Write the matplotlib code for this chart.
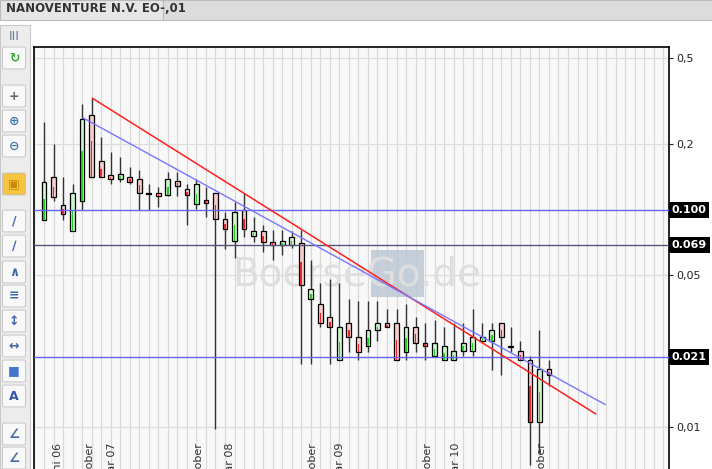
import matplotlib
matplotlib.use("Agg")
import matplotlib.pyplot as plt
from matplotlib.patches import Rectangle, FancyBboxPatch
import numpy as np

# monthly OHLC, starting mid 2006
opens = [0.090, 0.141, 0.105, 0.080, 0.110, 0.274, 0.167, 0.144, 0.139, 0.141,
         0.139, 0.119, 0.120, 0.117, 0.136, 0.125, 0.106, 0.111, 0.119, 0.091,
         0.072, 0.100, 0.076, 0.080, 0.071, 0.069, 0.069, 0.070, 0.039, 0.037,
         0.032, 0.0204, 0.030, 0.026, 0.0235, 0.028, 0.030, 0.030, 0.0222, 0.029,
         0.0245, 0.0213, 0.0204, 0.0204, 0.0225, 0.0225, 0.025, 0.025, 0.030, 0.0235,
         0.0225, 0.0204, 0.0105, 0.0186]
highs = [0.254, 0.201, 0.141, 0.132, 0.306, 0.326, 0.217, 0.184, 0.175, 0.157,
         0.152, 0.131, 0.128, 0.150, 0.150, 0.132, 0.138, 0.128, 0.120, 0.098,
         0.109, 0.120, 0.093, 0.085, 0.081, 0.081, 0.080, 0.081, 0.059, 0.046,
         0.048, 0.046, 0.039, 0.038, 0.038, 0.038, 0.035, 0.035, 0.037, 0.032,
         0.030, 0.031, 0.029, 0.030, 0.030, 0.035, 0.030, 0.030, 0.030, 0.029,
         0.025, 0.0213, 0.028, 0.0204]
lows = [0.090, 0.110, 0.090, 0.080, 0.100, 0.141, 0.141, 0.132, 0.135, 0.131,
        0.100, 0.100, 0.103, 0.116, 0.116, 0.085, 0.101, 0.093, 0.0098, 0.066,
        0.060, 0.075, 0.071, 0.064, 0.059, 0.062, 0.067, 0.0196, 0.0196, 0.029,
        0.0196, 0.0204, 0.0222, 0.0204, 0.0222, 0.025, 0.029, 0.0204, 0.0204, 0.0222,
        0.0204, 0.0213, 0.0204, 0.0204, 0.0213, 0.0213, 0.025, 0.0184, 0.0174, 0.0222,
        0.0204, 0.0067, 0.0076, 0.0155]
closes = [0.134, 0.115, 0.096, 0.120, 0.263, 0.141, 0.141, 0.139, 0.147, 0.135,
          0.120, 0.118, 0.116, 0.138, 0.129, 0.117, 0.131, 0.108, 0.091, 0.082,
          0.098, 0.082, 0.080, 0.071, 0.069, 0.072, 0.075, 0.045, 0.043, 0.030,
          0.029, 0.029, 0.026, 0.0222, 0.028, 0.030, 0.029, 0.0204, 0.029, 0.0245,
          0.0235, 0.0245, 0.0235, 0.0225, 0.0245, 0.026, 0.026, 0.028, 0.026, 0.0233,
          0.0204, 0.0105, 0.0186, 0.0174]

# trend lines: (start index, start value, end index, end value)
red_trend = (5.1, 0.326, 57.9, 0.0115)
blue_trend = (4.1, 0.265, 58.9, 0.0127)
hlines = [0.100, 0.069, 0.021]
hline_colors = ["#6666ff", "#55557a", "#6666ff"]
hline_labels = ["0.100", "0.069", "0.021"]

yticks = [0.5, 0.2, 0.05, 0.01]
ytick_labels = ["0,5", "0,2", "0,05", "0,01"]

xlabel_pos = [1.5, 4.8, 7.2, 16.2, 19.6, 28.2, 31.1, 40.2, 43.3, 52.2]
xlabel_text = ["Juni 06", "Oktober", "Januar 07", "Oktober", "Januar 08",
               "Oktober", "Januar 09", "Oktober", "Januar 10", "Oktober"]

fig = plt.figure(figsize=(7.12, 4.69), dpi=100, facecolor="white")
W, H = 712, 469

# title tab
fig.patches.append(Rectangle((0, (H - 20) / H), 163 / W, 20 / H, transform=fig.transFigure,
                             facecolor="#e6e6e6", edgecolor="#bbbbbb", lw=0.8, zorder=-5))
fig.patches.append(Rectangle((163 / W, (H - 20) / H), (W - 163) / W, 20 / H, transform=fig.transFigure,
                             facecolor="#dcdcdc", edgecolor="#bbbbbb", lw=0.8, zorder=-5))
fig.text(6 / W, 1 - 9 / H, "NANOVENTURE N.V. EO-,01", fontsize=8.5, fontweight="bold",
         color="#333333", va="center", ha="left")

# toolbar
fig.patches.append(Rectangle((0, 0), 30 / W, (H - 25) / H, transform=fig.transFigure,
                             facecolor="#ececec", edgecolor="#c8c8c8", lw=0.8, zorder=-5))
fig.text(14 / W, 1 - 36 / H, "III", fontsize=9, color="#6a7a9a", ha="center", va="center")
icons = [("\u21bb", 58, "#33aa33"), ("+", 96, "#666666"), ("\u2295", 121, "#4477aa"),
         ("\u2296", 146, "#4477aa"), ("\u25a3", 184, "#cc8800"), ("/", 221, "#4466aa"),
         ("\u2215", 246, "#4466aa"), ("\u2227", 272, "#4466aa"), ("\u2261", 296, "#4466aa"),
         ("\u2195", 321, "#4466aa"), ("\u2194", 346, "#4466aa"), ("\u25a0", 371, "#4477cc"),
         ("A", 396, "#3355aa"), ("\u2220", 434, "#4466aa"), ("\u2220", 458, "#4466aa")]
for glyph, yc, col in icons:
    face = "#f5c542" if yc == 184 else "#f8f8f8"
    fig.patches.append(FancyBboxPatch((4 / W, (H - yc - 10) / H), 20 / W, 20 / H,
                                      boxstyle="round,pad=0.002", transform=fig.transFigure,
                                      facecolor=face, edgecolor="#c0c0c0", lw=0.6, zorder=-4))
    fig.text(14 / W, 1 - yc / H, glyph, fontsize=9, color=col, ha="center", va="center",
             fontweight="bold")

ax = fig.add_axes([34 / W, 0, (669 - 34) / W, (H - 47) / H])
ax.set_facecolor("#f8f8f8")
ax.set_yscale("log")
ax.set_ylim(0.00641, 0.562)
ax.set_xlim(-1.05, 65.6)

n = len(opens)
x = np.arange(n)
for xi in range(-1, 66):
    ax.axvline(xi, color="#d9d9d9", lw=0.9, zorder=0)
for t in yticks:
    ax.axhline(t, color="#dddddd", lw=0.9, zorder=0)

# watermark
ax.add_patch(Rectangle((34.3, 0.0395), 5.6, 0.0255, facecolor="#bcc8d4", edgecolor="none",
                       alpha=0.85, zorder=0.5))
ax.text(32.8, 0.0505, "BoerseGo.de", fontsize=28, color="#dedede",
        ha="center", va="center", zorder=0.6)

up = np.array(closes) >= np.array(opens)
ax.vlines(x, lows, highs, color="#333333", lw=1.0, zorder=2)
bottoms = np.minimum(opens, closes)
tops = np.maximum(opens, closes)
heights = tops - bottoms
heights = np.maximum(heights, bottoms * 0.012)
fill = np.where(up, "#ccf5cc", "#f8cccc")
strong = np.where(up, "#22cc22", "#ee2222")
ax.bar(x, heights, 0.5, bottom=bottoms, color=fill, edgecolor="black", lw=0.9, zorder=3)
ax.bar(x, heights * 0.5, 0.16, bottom=bottoms, color=strong, lw=0, zorder=4)

for v, c in zip(hlines, hline_colors):
    ax.axhline(v, color=c, lw=1.0, zorder=5)
ax.plot([red_trend[0], red_trend[2]], [red_trend[1], red_trend[3]], color="#ff2020", lw=1.1, zorder=6)
ax.plot([blue_trend[0], blue_trend[2]], [blue_trend[1], blue_trend[3]], color="#7777ff", lw=1.0, zorder=6)

for xp, txt in zip(xlabel_pos, xlabel_text):
    ax.text(xp, 0.0085, txt, rotation=90, ha="center", va="top", fontsize=8,
            color="#333333", zorder=7, clip_on=False)

ax.yaxis.tick_right()
ax.set_yticks(yticks)
ax.set_yticklabels(ytick_labels)
ax.yaxis.set_minor_locator(matplotlib.ticker.NullLocator())
ax.tick_params(axis="y", length=3, labelsize=8, colors="#222222", pad=2)
ax.set_xticks([])
for v, lab in zip(hlines, hline_labels):
    ax.text(1.004, v, lab, transform=ax.get_yaxis_transform(), fontsize=8, fontweight="bold",
            color="white", va="center", ha="left",
            bbox=dict(boxstyle="square,pad=0.25", facecolor="black", edgecolor="none"))
for s in ax.spines.values():
    s.set_color("black")
    s.set_linewidth(1.2)
ax.spines["bottom"].set_visible(False)

fig.savefig("out.png", dpi=100, facecolor=fig.get_facecolor())
